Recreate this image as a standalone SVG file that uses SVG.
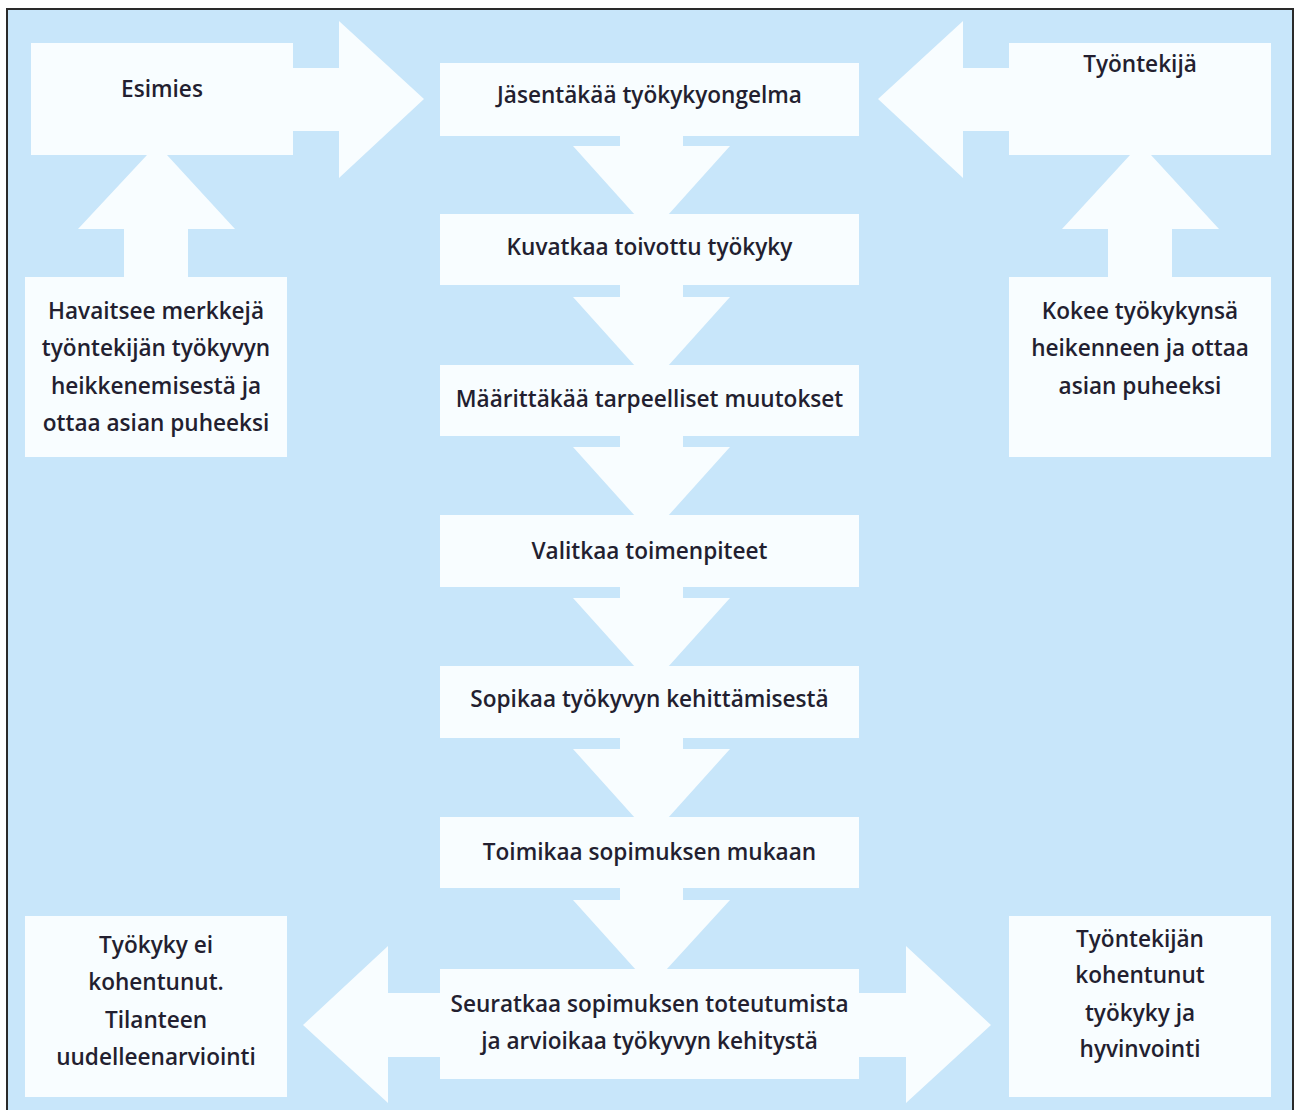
<svg xmlns="http://www.w3.org/2000/svg" width="1296" height="1110" viewBox="0 0 1296 1110">
<style>
.w{fill:#F8FDFF}
.t{font-family:"Open Sans","Noto Sans","Liberation Sans",sans-serif;font-weight:600;font-size:22.6px;fill:#231F30;text-anchor:middle}
</style>
<rect x="0" y="0" width="1296" height="1110" fill="#FFFFFF"/>
<rect x="7" y="9" width="1286" height="1120" fill="#C8E6FA" stroke="#2A2A2A" stroke-width="2"/>
<g id="connectors" class="w">
<polygon points="293,68 339,68 339,21 424,99 339,178 339,131 293,131"/>
<polygon points="1009,68 963,68 963,21 878,99 963,178 963,131 1009,131"/>
<polygon points="124,277 124,229 78,229 147,155 167,155 235,229 188,229 188,277"/>
<polygon points="1108,277 1108,229 1062,229 1130,155 1151,155 1219,229 1172,229 1172,277"/>
<polygon points="620,135 683,135 683,146 730,146 668,215 635,215 573,146 620,146"/>
<polygon points="620,284 683,284 683,297 730,297 668,366 635,366 573,297 620,297"/>
<polygon points="620,435 683,435 683,447 730,447 668,516 635,516 573,447 620,447"/>
<polygon points="620,586 683,586 683,598 730,598 668,667 635,667 573,598 620,598"/>
<polygon points="620,737 683,737 683,749 730,749 668,818 635,818 573,749 620,749"/>
<polygon points="620,887 683,887 683,900 730,900 666,970 636,970 573,900 620,900"/>
<polygon points="441,993 388,993 388,946 303,1025 388,1103 388,1057 441,1057"/>
<polygon points="858,993 906,993 906,946 991,1025 906,1103 906,1057 858,1057"/>
</g>
<g id="esimies"><rect class="w" x="31" y="43" width="262" height="112"/><text class="t" x="162" y="97">Esimies</text></g>
<g id="tyontekija"><rect class="w" x="1009" y="43" width="262" height="112"/><text class="t" x="1140" y="72">Työntekijä</text></g>
<g id="havaitsee"><rect class="w" x="25" y="277" width="262" height="180"/><text class="t" x="156" y="319">Havaitsee merkkejä</text><text class="t" x="156" y="356">työntekijän työkyvyn</text><text class="t" x="156" y="394">heikkenemisestä ja</text><text class="t" x="156" y="431">ottaa asian puheeksi</text></g>
<g id="kokee"><rect class="w" x="1009" y="277" width="262" height="180"/><text class="t" x="1140" y="319">Kokee työkykynsä</text><text class="t" x="1140" y="356">heikenneen ja ottaa</text><text class="t" x="1140" y="394">asian puheeksi</text></g>
<g id="n1"><rect class="w" x="440" y="63" width="419" height="73"/><text class="t" x="649.5" y="103">Jäsentäkää työkykyongelma</text></g>
<g id="n2"><rect class="w" x="440" y="214" width="419" height="71"/><text class="t" x="649.5" y="255">Kuvatkaa toivottu työkyky</text></g>
<g id="n3"><rect class="w" x="440" y="365" width="419" height="71"/><text class="t" x="649.5" y="407">Määrittäkää tarpeelliset muutokset</text></g>
<g id="n4"><rect class="w" x="440" y="515" width="419" height="72"/><text class="t" x="649.5" y="559">Valitkaa toimenpiteet</text></g>
<g id="n5"><rect class="w" x="440" y="666" width="419" height="72"/><text class="t" x="649.5" y="707">Sopikaa työkyvyn kehittämisestä</text></g>
<g id="n6"><rect class="w" x="440" y="817" width="419" height="71"/><text class="t" x="649.5" y="860">Toimikaa sopimuksen mukaan</text></g>
<g id="n7"><rect class="w" x="440" y="969" width="419" height="110"/><text class="t" x="649.5" y="1012">Seuratkaa sopimuksen toteutumista</text><text class="t" x="649.5" y="1049">ja arvioikaa työkyvyn kehitystä</text></g>
<g id="eikohentunut"><rect class="w" x="25" y="916" width="262" height="181"/><text class="t" x="156" y="953">Työkyky ei</text><text class="t" x="156" y="990">kohentunut.</text><text class="t" x="156" y="1028">Tilanteen</text><text class="t" x="156" y="1065">uudelleenarviointi</text></g>
<g id="kohentunut"><rect class="w" x="1009" y="916" width="262" height="181"/><text class="t" x="1140" y="947">Työntekijän</text><text class="t" x="1140" y="983">kohentunut</text><text class="t" x="1140" y="1021">työkyky ja</text><text class="t" x="1140" y="1057">hyvinvointi</text></g>
</svg>
